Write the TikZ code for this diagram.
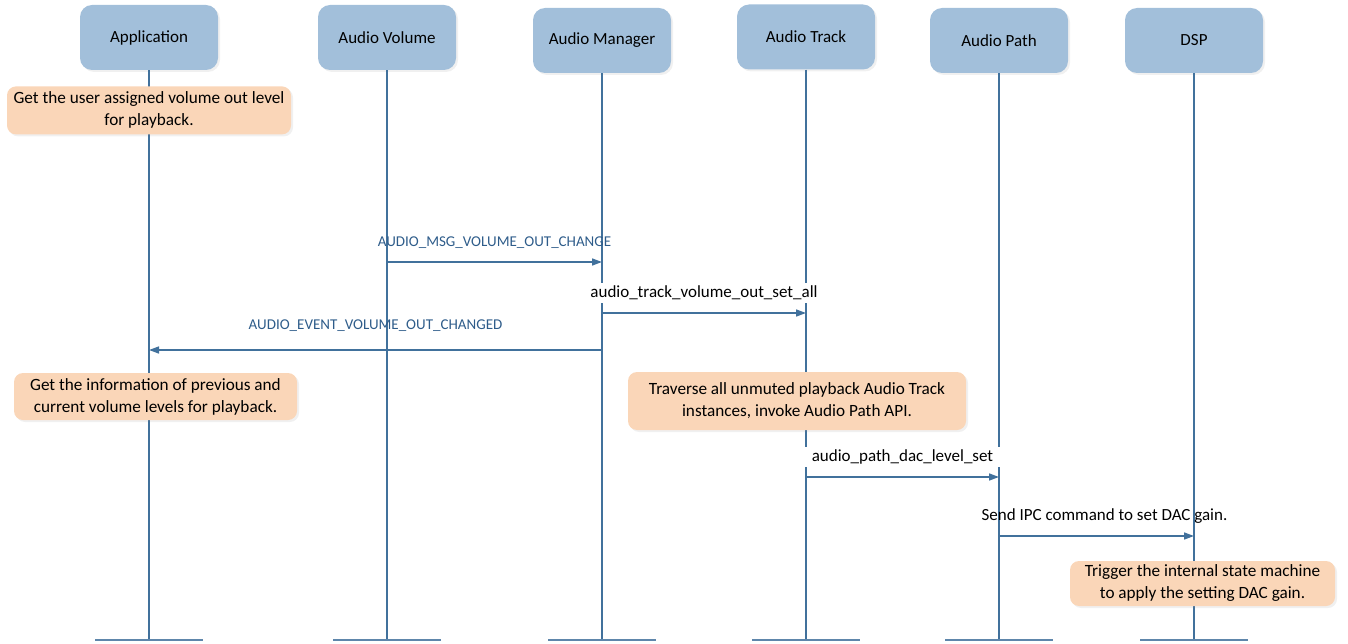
\documentclass[tikz,border=0pt]{standalone}
\usepackage{fontspec}
\setmainfont{Carlito}
\usepackage{xcolor}
\usetikzlibrary{arrows.meta, shadows, positioning}
\definecolor{lineablu}{HTML}{41719C}
\definecolor{boxblu}{HTML}{A2BFDA}
\definecolor{notaarancio}{HTML}{FAD6B8}
\definecolor{testoblu}{HTML}{2E5C8A}
\tikzset{
  oggetto/.style = {rectangle, rounded corners = 12pt, fill = boxblu, minimum width = 138pt, minimum height = 65pt,
    font = \fontsize{17}{20}\selectfont, drop shadow = {shadow xshift = 2pt, shadow yshift = -2pt, opacity = 0.12}},
  nota/.style = {rectangle, rounded corners = 9pt, fill = notaarancio, align = center, inner xsep = 6pt,
    font = \fontsize{17.2}{22}\selectfont, drop shadow = {shadow xshift = 2pt, shadow yshift = -2pt, opacity = 0.12}},
  vita/.style = {lineablu, line width = 1.5pt},
  base/.style = {lineablu!85, line width = 2.5pt},
  msg/.style = {lineablu, line width = 1.5pt, -{Triangle[length = 10pt, width = 7pt]}},
  etich/.style = {fill = white, text = black, inner xsep = 8pt, inner ysep = 3pt, font = \fontsize{17}{18}\selectfont},
  etichmaiusc/.style = {inner sep = 2pt, text = testoblu, font = \fontsize{15}{16}\selectfont}
}
\begin{document}
\begin{tikzpicture}[x = 1pt, y = -1pt]
    % Parametri
    \pgfmathsetmacro{\yfine}{640}
    \pgfmathsetmacro{\mezzabase}{54}
    \useasboundingbox (0,0) rectangle (1348,644);
    % Oggetti
    \node[oggetto] (app) at (149,37.5) {Application};
    \node[oggetto] (vol) at (387,37.5) {Audio Volume};
    \node[oggetto] (mgr) at (602,40.5) {Audio Manager};
    \node[oggetto] (trk) at (806,37) {Audio Track};
    \node[oggetto] (pth) at (999,40.5) {Audio Path};
    \node[oggetto] (dsp) at (1194,40.5) {DSP};
    % Linee di vita
    \foreach \o in {app, vol, mgr, trk, pth, dsp} {
        \coordinate (\o-fine) at (\o |- 0,\yfine);
        \draw[vita] (\o.south) -- (\o-fine);
        \draw[base] ([xshift = -\mezzabase pt]\o-fine) -- ([xshift = \mezzabase pt]\o-fine);
    }
    % Messaggi
    \coordinate (m1s) at (vol |- 0,262);
    \coordinate (m1e) at (mgr |- 0,262);
    \draw[msg] (m1s) -- (m1e) node[midway, above = 11pt, etichmaiusc]{AUDIO\_MSG\_VOLUME\_OUT\_CHANGE};
    \coordinate (m2s) at (mgr |- 0,313);
    \coordinate (m2e) at (trk |- 0,313);
    \draw[msg] (m2s) -- (m2e) node[midway, above = 9pt, etich]{audio\_track\_volume\_out\_set\_all};
    \coordinate (m3s) at (mgr |- 0,350);
    \coordinate (m3e) at (app |- 0,350);
    \draw[msg] (m3s) -- (m3e) node[midway, above = 16pt, etichmaiusc]{AUDIO\_EVENT\_VOLUME\_OUT\_CHANGED};
    \coordinate (m4s) at (trk |- 0,477);
    \coordinate (m4e) at (pth |- 0,477);
    \draw[msg] (m4s) -- (m4e) node[midway, above = 9pt, etich]{audio\_path\_dac\_level\_set};
    \coordinate (m5s) at (pth |- 0,536);
    \coordinate (m5e) at (dsp |- 0,536);
    \draw[msg] (m5s) -- (m5e) node[midway, above = 9pt, xshift = 8pt, etich, fill = none]{Send IPC command to set DAC gain.};
    % Note
    \node[nota, below = 16pt of app, minimum width = 284pt, minimum height = 48pt] (nota1)
        {Get the user assigned volume out level\\for playback.};
    \node[nota, minimum width = 283pt, minimum height = 47pt] (nota2) at (155.5,396.5)
        {Get the information of previous and\\current volume levels for playback.};
    \node[nota, minimum width = 338pt, minimum height = 58pt] (nota3) at (797,401)
        {Traverse all unmuted playback Audio Track\\instances, invoke Audio Path API.};
    \node[nota, minimum width = 265pt, minimum height = 45pt] (nota4) at (1202.5,583.5)
        {Trigger the internal state machine\\to apply the setting DAC gain.};
\end{tikzpicture}
\end{document}
